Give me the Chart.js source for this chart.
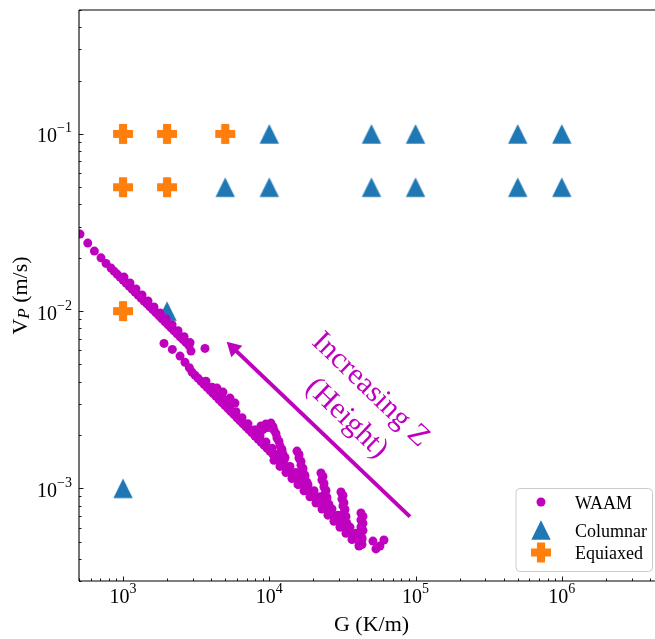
<!DOCTYPE html>
<html><head><meta charset="utf-8">
<script src="https://cdn.jsdelivr.net/npm/chart.js@4.4.0/dist/chart.umd.min.js"></script>
<style>
html,body{margin:0;padding:0;background:#fff;overflow:hidden}
canvas{display:block}
</style></head><body>
<canvas id="c" width="655" height="639"></canvas>
<script>
// ---------------- data ----------------
const xTickValues = [1e3, 1e4, 1e5, 1e6];
const xTickExps   = ['3', '4', '5', '6'];
const yTickValues = [1e-3, 1e-2, 1e-1];
const yTickExps   = ['\u22123', '\u22122', '\u22121'];

const equiaxedG = [1000, 2000, 5000, 1000, 2000, 1000];
const equiaxedV = [0.1, 0.1, 0.1, 0.05, 0.05, 0.01];

const columnarG = [10000, 50000, 100000, 500000, 1000000, 5000, 10000, 50000, 100000, 500000, 1000000, 2000, 1000];
const columnarV = [0.1, 0.1, 0.1, 0.1, 0.1, 0.05, 0.05, 0.05, 0.05, 0.05, 0.05, 0.01, 0.001];

// WAAM points [G, Vp]
const waamUpper = [
[508,0.0272],[574,0.0242],[637,0.0218],[707,0.01998],[765,0.01858],[828,0.01748],
[868,0.01681],[910,0.01617],[954,0.01556],[1000,0.01497],[1049,0.01440],[1099,0.01385],[1152,0.01333],[1208,0.01282],[1267,0.01233],[1328,0.01186],[1392,0.01141],[1460,0.01098],[1530,0.01056],[1604,0.01016],[1682,0.00977],[1763,0.00940],[1849,0.00905],[1938,0.00870],[2032,0.00837],[2130,0.00805],[2234,0.00775],[2342,0.00745],[2455,0.00717],[2574,0.00690],[2698,0.00664],[2829,0.00638],
[1016,0.01556],[1116,0.01440],[1227,0.01333],[1349,0.01233],[1482,0.01141],[1629,0.01056],[1791,0.00977],[1969,0.00905],[2164,0.00837],[2378,0.00775],[2615,0.00717],[2873,0.00664],
[2916,0.005948],[3635,0.00616]
];
const waamLower = [
[1906,0.006573],[2173,0.006081],[2453,0.005574],[2653,0.005137],[2840,0.004789],
[2962,0.004529],[3105,0.004352],[3256,0.004183],[3413,0.004021],[3578,0.003865],[3751,0.003716],[3933,0.003572],[4123,0.003433],[4323,0.003300],[4532,0.003172],[4751,0.003049],[4981,0.002931],[5222,0.002818],[5475,0.002708],[5740,0.002604],[6017,0.002503],[6308,0.002406],[6614,0.002312],[6934,0.002223],[7269,0.002137],[7621,0.002054],[7989,0.001974],[8376,0.001898],[8781,0.001824],[9206,0.001753],[9651,0.001685],[10111,0.001620],[10600,0.001557],[11113,0.001497],[11651,0.001439],[12214,0.001383],[12806,0.001329],[13425,0.001278],[14075,0.001228],[14755,0.001181],[15469,0.001135],[16218,0.001091],[17002,0.001049],[17825,0.001008],[18687,0.000969],[19591,0.000931],[20539,0.000895],[21532,0.000860],[22574,0.000827],[23665,0.000795],[24810,0.000764],[26011,0.000734],[27269,0.000706],[28588,0.000679],[29970,0.000652],[31420,0.000627],[32940,0.000603],[34533,0.000579],[36204,0.000557],[37955,0.000535],[39791,0.000514],[41716,0.000494],
[3693,0.004021],[4059,0.003716],[4461,0.003433],[4904,0.003172],[5389,0.002931],[5924,0.002708],[6510,0.002503],[7156,0.002312],[7865,0.002137],[8644,0.001974],[9501,0.001824],[10442,0.001685],[11469,0.001557],[12606,0.001439],[13856,0.001329],[15229,0.001228],[16737,0.001135],[18396,0.001049],[20219,0.000969],[22223,0.000895],[24425,0.000827],[26844,0.000764],[29505,0.000706],[32428,0.000652],[35641,0.000603],[39173,0.000557],[43054,0.000514],
[10768,0.001439],[11836,0.001329],[13008,0.001228],[14297,0.001135],[15714,0.001049],[17271,0.000969],[18983,0.000895],[20863,0.000827],[22930,0.000764],[25202,0.000706],[27699,0.000652],[30444,0.000603],[33460,0.000557],[36776,0.000514]
];
const waamSpikes = [
[4390,0.003678],[4826,0.003491],[5387,0.003231],[5830,0.003028],
[8115,0.002132],[8776,0.002246],[9494,0.002305],[10271,0.002335],[10768,0.002132],[11289,0.001922],[11835,0.001732],[12406,0.001561],
[8375,0.002037],[9057,0.002146],[9798,0.002203],[10600,0.002231],[11113,0.002037],[11650,0.001837],[12214,0.001655],[12803,0.001492],
[15464,0.001623],[15959,0.001483],[16470,0.001353],[16999,0.001236],[17541,0.001129],
[15959,0.001551],[16470,0.001417],[16997,0.001293],[17543,0.001181],[18102,0.001079],
[22566,0.001220],[22923,0.001114],[23656,0.001017],[24031,0.000929],[24800,0.000848],
[23288,0.001166],[23657,0.001065],[24413,0.000972],[24800,0.000888],[25594,0.000810],
[30913,0.000953],[31402,0.000870],[31901,0.000795],[32407,0.000726],[32919,0.000663],
[31902,0.000911],[32407,0.000831],[32922,0.000760],[33444,0.000694],[33972,0.000634],
[42357,0.000726],[42357,0.000663],[42357,0.000605],[41687,0.000552],[41687,0.000504],[41033,0.000473],
[43712,0.000694],[43712,0.000634],[43712,0.000578],[43021,0.000527],[43021,0.000482],
[51143,0.000504],[57109,0.000473],[60814,0.000511],[53627,0.000455]
];

const arrowTail = [91560, 0.000692];
const arrowHead = [5115, 0.00671];
const noteLines = [
  {text: 'Increasing Z', g: 49180, v: 0.003594},
  {text: '(Height)',     g: 33810, v: 0.002482}
];

// ---------------- style ----------------
const MAG = '#bf00bf', BLUE = '#1f77b4', ORANGE = '#ff7f0e';
const SERIF = '"Liberation Serif", "DejaVu Serif", "Times New Roman", serif';

function makeTriangle() {
  const c = document.createElement('canvas'); c.width = 22; c.height = 22;
  const g = c.getContext('2d');
  g.fillStyle = BLUE;
  g.beginPath(); g.moveTo(11, 1.3); g.lineTo(20.7, 20.7); g.lineTo(1.3, 20.7); g.closePath(); g.fill();
  return c;
}
function makePlus() {
  const c = document.createElement('canvas'); c.width = 22; c.height = 22;
  const g = c.getContext('2d');
  const L = 9.3, w = 3.4, cx = 11, cy = 11;
  g.beginPath();
  g.moveTo(cx-w, cy-L); g.lineTo(cx+w, cy-L); g.lineTo(cx+w, cy-w); g.lineTo(cx+L, cy-w);
  g.lineTo(cx+L, cy+w); g.lineTo(cx+w, cy+w); g.lineTo(cx+w, cy+L); g.lineTo(cx-w, cy+L);
  g.lineTo(cx-w, cy+w); g.lineTo(cx-L, cy+w); g.lineTo(cx-L, cy-w); g.lineTo(cx-w, cy-w);
  g.closePath();
  g.fillStyle = ORANGE; g.fill();
  g.strokeStyle = ORANGE; g.lineWidth = 1.4; g.lineJoin = 'round'; g.stroke();
  return c;
}
const triImg = makeTriangle();
const plusImg = makePlus();

const toPts = arr => arr.map(p => ({x: p[0], y: p[1]}));
const waamPts = toPts(waamUpper.concat(waamLower, waamSpikes));
const colPts = columnarG.map((g, i) => ({x: g, y: columnarV[i]}));
const eqPts = equiaxedG.map((g, i) => ({x: g, y: equiaxedV[i]}));

function drawPow(ctx, base, exp, x, yBase, align) {
  ctx.font = `20px ${SERIF}`;
  const wb = ctx.measureText(base).width;
  ctx.font = `14px ${SERIF}`;
  const we = ctx.measureText(exp).width;
  const total = wb + we;
  let sx = align === 'center' ? x - total / 2 : x - total;
  ctx.textAlign = 'left'; ctx.textBaseline = 'alphabetic';
  ctx.font = `20px ${SERIF}`; ctx.fillText(base, sx, yBase);
  ctx.font = `14px ${SERIF}`; ctx.fillText(exp, sx + wb, yBase - 10);
}

const decor = {
  id: 'decor',
  afterDraw(chart) {
    const {ctx, chartArea: a, scales} = chart;
    const xs = scales.x, ys = scales.y;
    ctx.save();
    ctx.beginPath();
    // arrow
    const tx = xs.getPixelForValue(arrowTail[0]), ty = ys.getPixelForValue(arrowTail[1]);
    const hx = xs.getPixelForValue(arrowHead[0]), hy = ys.getPixelForValue(arrowHead[1]);
    const dx = tx - hx, dy = ty - hy, len = Math.hypot(dx, dy), ux = dx / len, uy = dy / len;
    const hl = 14, hw = 8;
    ctx.strokeStyle = MAG; ctx.lineWidth = 4; ctx.lineCap = 'butt';
    ctx.beginPath(); ctx.moveTo(tx, ty); ctx.lineTo(hx + ux * hl * 0.7, hy + uy * hl * 0.7); ctx.stroke();
    ctx.fillStyle = MAG;
    ctx.beginPath();
    ctx.moveTo(hx, hy);
    ctx.lineTo(hx + ux * hl - uy * hw, hy + uy * hl + ux * hw);
    ctx.lineTo(hx + ux * hl + uy * hw, hy + uy * hl - ux * hw);
    ctx.closePath(); ctx.fill();
    // annotation text
    ctx.font = `30px ${SERIF}`; ctx.textAlign = 'center'; ctx.textBaseline = 'middle';
    noteLines.forEach(n => {
      ctx.save();
      ctx.translate(xs.getPixelForValue(n.g), ys.getPixelForValue(n.v));
      ctx.rotate(44 * Math.PI / 180);
      ctx.fillText(n.text, 0, 0);
      ctx.restore();
    });
    // keep the right edge of the plot open (the right spine lies outside the picture)
    ctx.fillStyle = '#ffffff';
    ctx.fillRect(649.5, a.top + 1, 6, a.bottom - a.top - 2);
    // spines: left, bottom, top
    ctx.strokeStyle = '#000'; ctx.lineWidth = 1.1;
    ctx.beginPath(); ctx.moveTo(a.left, a.top); ctx.lineTo(a.left, a.bottom); ctx.stroke();
    ctx.beginPath(); ctx.moveTo(a.left, a.bottom); ctx.lineTo(655, a.bottom); ctx.stroke();
    ctx.beginPath(); ctx.moveTo(a.left, a.top); ctx.lineTo(655, a.top); ctx.stroke();
    // ticks (inward)
    ctx.lineWidth = 0.9;
    ctx.beginPath();
    for (let e = 2; e <= 6; e++) for (let m = 1; m <= 9; m++) {
      const v = m * Math.pow(10, e);
      if (v < xs.min || v > xs.max) continue;
      const px = Math.round(xs.getPixelForValue(v)) + 0.5;
      const L = m === 1 ? 4.5 : 2.5;
      ctx.moveTo(px, a.bottom); ctx.lineTo(px, a.bottom - L);
    }
    ctx.stroke();
    ctx.beginPath();
    for (let e = -4; e <= -1; e++) for (let m = 1; m <= 9; m++) {
      const v = m * Math.pow(10, e);
      if (v < ys.min || v > ys.max) continue;
      const py = Math.round(ys.getPixelForValue(v)) + 0.5;
      const L = m === 1 ? 4.5 : 2.5;
      ctx.moveTo(a.left, py); ctx.lineTo(a.left + L, py);
    }
    ctx.stroke();
    // tick labels
    ctx.fillStyle = '#000';
    xTickValues.forEach((v, i) => drawPow(ctx, '10', xTickExps[i], xs.getPixelForValue(v), 603, 'center'));
    yTickValues.forEach((v, i) => drawPow(ctx, '10', yTickExps[i], 72, ys.getPixelForValue(v) + 8.5, 'right'));
    // axis titles
    ctx.font = `22px ${SERIF}`; ctx.textAlign = 'center'; ctx.textBaseline = 'alphabetic';
    ctx.fillText('G (K/m)', 371.5, 631);
    ctx.save();
    ctx.translate(27, (a.top + a.bottom) / 2);
    ctx.rotate(-Math.PI / 2);
    ctx.textAlign = 'left';
    ctx.font = `22px ${SERIF}`; const wV = ctx.measureText('V').width; const wR = ctx.measureText(' (m/s)').width;
    ctx.font = `italic 17px ${SERIF}`; const wP = ctx.measureText('P').width;
    let sx = -(wV + wP + wR) / 2;
    ctx.font = `22px ${SERIF}`; ctx.fillText('V', sx, 0);
    ctx.font = `italic 17px ${SERIF}`; ctx.fillText('P', sx + wV, 2);
    ctx.font = `22px ${SERIF}`; ctx.fillText(' (m/s)', sx + wV + wP, 0);
    ctx.restore();
    // legend box (manual rounded rectangle)
    const lx0 = 516, ly0 = 488.5, lx1 = 652.5, ly1 = 571.5, r = 4;
    ctx.beginPath();
    ctx.moveTo(lx0 + r, ly0);
    ctx.lineTo(lx1 - r, ly0); ctx.arcTo(lx1, ly0, lx1, ly0 + r, r);
    ctx.lineTo(lx1, ly1 - r); ctx.arcTo(lx1, ly1, lx1 - r, ly1, r);
    ctx.lineTo(lx0 + r, ly1); ctx.arcTo(lx0, ly1, lx0, ly1 - r, r);
    ctx.lineTo(lx0, ly0 + r); ctx.arcTo(lx0, ly0, lx0 + r, ly0, r);
    ctx.closePath();
    ctx.fillStyle = 'rgba(255,255,255,0.8)'; ctx.fill();
    ctx.strokeStyle = '#cccccc'; ctx.lineWidth = 1; ctx.stroke();
    const ds = chart.data.datasets;
    const rows = [502, 530, 552.5];
    ds.forEach((d, i) => {
      const cy = rows[i];
      if (d.pointStyle === 'circle') {
        ctx.fillStyle = MAG; ctx.beginPath(); ctx.arc(541, cy, 4.5, 0, Math.PI * 2); ctx.fill();
      } else {
        ctx.drawImage(d.pointStyle, 541 - 11, cy - 11);
      }
      ctx.fillStyle = '#000'; ctx.font = `18px ${SERIF}`; ctx.textAlign = 'left'; ctx.textBaseline = 'alphabetic';
      ctx.fillText(d.label, 575, cy + 6.5);
    });
    ctx.beginPath();
    ctx.restore();
  }
};

new Chart(document.getElementById('c'), {
  type: 'scatter',
  data: {
    datasets: [
      {label: 'WAAM', data: waamPts, pointStyle: 'circle', pointRadius: 4.5, backgroundColor: MAG, borderWidth: 0, clip: 0},
      {label: 'Columnar', data: colPts, pointStyle: triImg, pointRadius: 10, backgroundColor: BLUE, borderWidth: 0, clip: 0},
      {label: 'Equiaxed', data: eqPts, pointStyle: plusImg, pointRadius: 10, backgroundColor: ORANGE, borderWidth: 0, clip: 0}
    ]
  },
  options: {
    responsive: false, animation: false, events: [],
    layout: {autoPadding: false, padding: {left: 79, top: 10, right: 0, bottom: 58}},
    scales: {
      x: {type: 'logarithmic', min: 500, max: 4.34e6, display: false},
      y: {type: 'logarithmic', min: 3e-4, max: 0.5, display: false}
    },
    plugins: {legend: {display: false}, tooltip: {enabled: false}}
  },
  plugins: [decor]
});
</script>
</body></html>
